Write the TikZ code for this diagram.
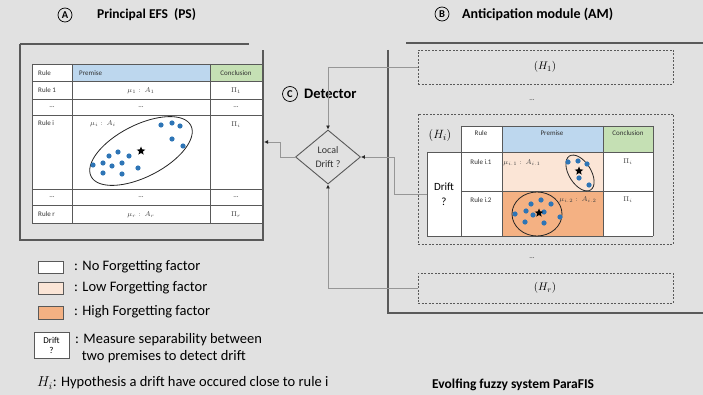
\documentclass[tikz,border=0pt]{standalone}
\usepackage{fontspec}
\setmainfont{Carlito}
\usetikzlibrary{shapes.geometric,arrows.meta}
\definecolor{bg}{RGB}{225,225,225}
\definecolor{hdrblue}{RGB}{189,215,238}
\definecolor{hdrgreen}{RGB}{197,224,180}
\definecolor{lowf}{RGB}{251,229,214}
\definecolor{highf}{RGB}{244,177,131}
\definecolor{dotc}{RGB}{46,117,182}
\definecolor{linec}{RGB}{89,89,89}
\definecolor{connc}{RGB}{150,150,150}
\begin{document}
\begin{tikzpicture}[x=1pt,y=-1pt,
  boxline/.style={draw=linec,line width=1.3pt},
  grid/.style={draw=linec,line width=0.9pt},
  dashbox/.style={draw=linec,line width=0.9pt,dash pattern=on 2pt off 1.5pt},
  conn/.style={draw=connc,line width=0.9pt,-{Latex[length=4pt,width=4pt,color=black!85]}},
  title/.style={font=\fontsize{13.5}{15}\selectfont\bfseries,anchor=west,inner sep=0},
  circlet/.style={circle,draw=black,line width=0.7pt,inner sep=0,minimum size=14pt,font=\fontsize{10.5}{12}\selectfont\bfseries},
  tab/.style={font=\fontsize{7}{9}\selectfont,inner sep=0,text=black!80},
  mth/.style={font=\fontsize{7.5}{8}\selectfont,inner sep=0,text=black!75},
  legtxt/.style={font=\fontsize{14.5}{17}\selectfont,anchor=west,inner sep=0},
  starn/.style={star,star points=5,star point ratio=2.3,fill=black,inner sep=0,minimum size=9pt},
  ell/.style={draw=black!85,line width=0.8pt}
]
\fill[bg] (0,0) rectangle (703,395);
\useasboundingbox (0,0) rectangle (703,395);

% ---------- titles
\node[circlet] (cA) at (65,15) {A};
\node[title] (tA) at (97,15) {Principal EFS \ (PS)};
\node[circlet] (cB) at (442,14) {B};
\node[title,font=\fontsize{14}{16}\selectfont\bfseries] (tB) at (462,14) {Anticipation module (AM)};
\node[circlet,minimum size=15pt] (cC) at (290,94) {C};
\node[title,font=\fontsize{14.5}{16}\selectfont\bfseries] (tC) at (304,94) {Detector};

% ---------- PS box
\draw[boxline] (20,44) -- (249,44);
\draw[boxline] (20,44) -- (20,240) -- (263,240) -- (263,50);
\coordinate (psin) at (264,142);

% PS table
\fill[white] (32,64) rectangle (262,223);
\fill[hdrblue] (72,64) rectangle (210,81);
\fill[hdrgreen] (210,64) rectangle (262,81);
\foreach \yy in {64,81,99,115,189,205,223} \draw[grid] (32,\yy) -- (262,\yy);
\foreach \xx in {32,72,210,262} \draw[grid] (\xx,64) -- (\xx,223);
\node[tab,anchor=west] (p1) at (38,73) {Rule};
\node[tab,anchor=west] (p2) at (79,73) {Premise};
\node[tab] (p3) at (236,73) {Conclusion};
\node[tab,anchor=west] (p4) at (38,90) {Rule 1};
\node[mth] (p5) at (141,91) {$\mu_1:\ A_1$};
\node[mth] (p6) at (236,91) {$\Pi_1$};
\node[tab] (p7) at (52,107) {...};
\node[tab] (p8) at (141,107) {...};
\node[tab] (p9) at (236,107) {...};
\node[tab,anchor=west] (p10) at (38,123) {Rule i};
\node[mth] (p11) at (103,124) {$\mu_i:\ A_i$};
\node[mth] (p12) at (236,125) {$\Pi_i$};
\node[tab] (p13) at (52,197) {...};
\node[tab] (p14) at (141,197) {...};
\node[tab] (p15) at (236,197) {...};
\node[tab,anchor=west] (p16) at (38,214) {Rule r};
\node[mth] (p17) at (141,215) {$\mu_r:\ A_r$};
\node[mth] (p18) at (236,215) {$\Pi_r$};

\draw[ell,rotate around={27:(141,151)}] (141,151) ellipse [x radius=56pt,y radius=26pt];
\foreach \p in {(161,125),(172,123),(180,126),(172,139),(183,146),(118,152),(109,156),(129,156),(93,165),(103,163),(112,166),(122,163),(138,168),(103,173),(122,174)}
  \fill[dotc] \p circle (2.6pt);
\node[starn] (s1) at (141,151) {};

% ---------- AM box
\draw[boxline] (406,43) -- (703,43);
\draw[boxline] (388,50) -- (388,313) -- (703,313);

\node[dashbox,minimum width=255pt,minimum height=34pt,inner sep=0] (H1) at (545.5,67) {};
\node[font=\fontsize{11}{13}\selectfont] (H1t) at (545,67) {$(H_1)$};
\node[tab] (d1) at (532,100) {...};
\node[dashbox,minimum width=255pt,minimum height=130pt,inner sep=0] (Hi) at (545.5,179) {};
\node[dashbox,minimum width=255pt,minimum height=30pt,inner sep=0] (Hr) at (545.5,288) {};
\node[font=\fontsize{11}{13}\selectfont] (Hrt) at (545,288) {$(H_r)$};
\node[tab] (d2) at (532,258) {...};

% Hi table
\fill[white] (461,126) rectangle (653,236);
\fill[white] (427,152) rectangle (461,236);
\fill[hdrblue] (502,126) rectangle (603,152);
\fill[hdrgreen] (603,126) rectangle (653,152);
\fill[lowf] (502,152) rectangle (603,191);
\fill[highf] (502,191) rectangle (603,236);
\foreach \yy in {126,191,236} \draw[grid] (461,\yy) -- (653,\yy);
\draw[grid] (427,152) -- (653,152);
\draw[grid] (427,236) -- (461,236);
\foreach \xx in {461,502,603,653} \draw[grid] (\xx,126) -- (\xx,236);
\draw[grid] (427,152) -- (427,236);
\node[inner sep=0,minimum width=34pt,minimum height=84pt] (drift) at (444,194) {};
\node[font=\fontsize{11}{15}\selectfont,align=center,inner sep=0] (driftt) at (444,194) {Drift\\?};
\node[font=\fontsize{13}{15}\selectfont] (Hit) at (440,136) {$(H_i)$};
\node[tab] (q1) at (481,133) {Rule};
\node[tab] (q2) at (552,133) {Premise};
\node[tab] (q3) at (628,133) {Conclusion};
\node[tab] (q4) at (481,162) {Rule i.1};
\node[tab] (q5) at (481,200) {Rule i.2};
\node[mth] (q6) at (628,162) {$\Pi_i$};
\node[mth] (q7) at (628,200) {$\Pi_i$};
\node[mth] (q8) at (522,163) {$\mu_{i.1}:\ A_{i.1}$};
\node[mth] (q9) at (578,200) {$\mu_{i.2}:\ A_{i.2}$};

\draw[ell,rotate around={-58:(580,173)}] (580,173) ellipse [x radius=20pt,y radius=11pt];
\foreach \p in {(568,162),(578,161),(587,164),(579,178),(589,185)}
  \fill[dotc] \p circle (2.6pt);
\node[starn] (s2) at (579,171) {};
\draw[ell] (537,214) ellipse [x radius=25pt,y radius=22pt];
\foreach \p in {(541,200),(531,204),(551,204),(515,214),(526,211),(533,215),(544,212),(560,217),(525,222),(544,223)}
  \fill[dotc] \p circle (2.6pt);
\node[starn] (s3) at (539,213) {};

% ---------- detector
\node[diamond,draw=linec,line width=0.9pt,fill=bg,minimum width=65pt,minimum height=54pt,inner sep=0] (det) at (328,157) {};
\node[font=\fontsize{10}{14}\selectfont,align=center,inner sep=0,text=black!80] (dett) at (328,157) {Local\\Drift ?};

\draw[conn] (det.west) -- (280,157) |- (psin);
\draw[conn] (H1.west) -| (det.north);
\draw[conn] (drift.west) -- (394,194) |- (det.east);
\draw[conn] (Hr.west) -| (det.south);

% ---------- legend
\node[draw=linec,line width=0.8pt,fill=white,minimum width=25pt,minimum height=12pt,inner sep=0] (l1) at (50.5,267) {};
\node[draw=linec,line width=0.8pt,fill=lowf,minimum width=25pt,minimum height=12pt,inner sep=0] (l2) at (50.5,288) {};
\node[draw=linec,line width=0.8pt,fill=highf,minimum width=25pt,minimum height=13pt,inner sep=0] (l3) at (50.5,312.5) {};
\node[draw=linec,line width=0.8pt,fill=white,minimum width=35pt,minimum height=26pt,inner sep=0,font=\fontsize{9}{10}\selectfont,align=center] (l4) at (51.5,345) {Drift\\?};
\node[legtxt] (lt1) at (74,267) {: No Forgetting factor};
\node[legtxt] (lt2) at (74,288) {: Low Forgetting factor};
\node[legtxt] (lt3) at (74,312) {: High Forgetting factor};
\node[legtxt,align=left] (lt4) at (75,348) {: Measure separability between\\\ \ two premises to detect drift};
\node[legtxt] (lt5) at (37,383) {$H_i$: Hypothesis a drift have occured close to rule i};
\node[title,font=\fontsize{13.5}{15}\selectfont\bfseries] (tP) at (432,385) {Evolfing fuzzy system ParaFIS};
\end{tikzpicture}
\end{document}
